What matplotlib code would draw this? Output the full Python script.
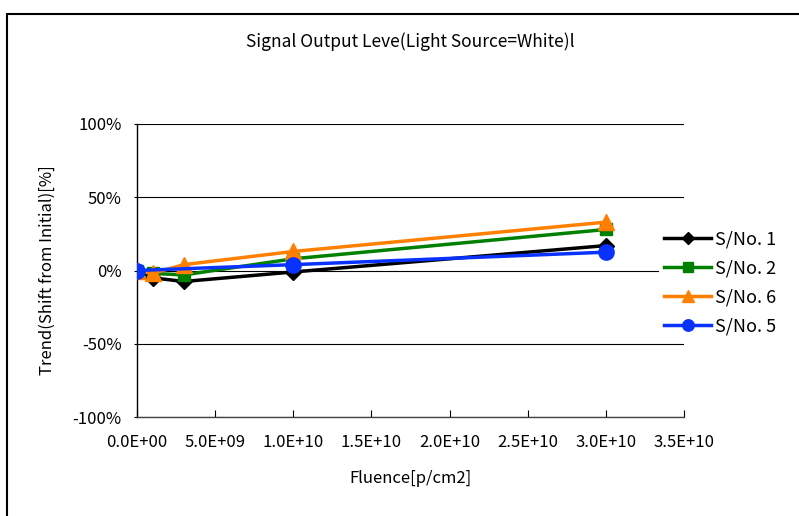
import matplotlib
matplotlib.use("Agg")
import matplotlib.pyplot as plt
from matplotlib.patches import Rectangle
from matplotlib.ticker import FuncFormatter, MultipleLocator

plt.rcParams["font.family"] = ["Noto Sans CJK JP", "DejaVu Sans"]

# -------------------------
# Data
# -------------------------
fluence_a = [0, 1e9, 3e9, 1e10, 3e10]
fluence_b = [0, 1e10, 3e10]

sno1 = [0, -5, -7.5, -1, 17]
sno2 = [0, -2, -3, 8, 28]
sno6 = [0, -2, 4, 13, 33]
sno5 = [0, 4, 12.5]

x_ticks = [0, 5e9, 1e10, 1.5e10, 2e10, 2.5e10, 3e10, 3.5e10]


def sci_label(v, pos):
    if v == 0:
        return "0.0E+00"
    exp = len(str(int(v))) - 1
    return "%.1fE+%02d" % (v / 10 ** exp, exp)


# -------------------------
# Figure
# -------------------------
fig = plt.figure(figsize=(7.99, 5.16), dpi=100)
fig.patches.append(Rectangle((7 / 799, -0.1), 1.2, 1 - 14 / 516 + 0.1,
                             transform=fig.transFigure, fill=False,
                             edgecolor="black", linewidth=1.5))

ax = fig.add_axes([137 / 799, 1 - 417 / 516, 547 / 799, 293 / 516])

ax.plot(fluence_a, sno1, color="black", marker="D", markersize=8,
        linewidth=2.5, label="S/No. 1", zorder=3)
ax.plot(fluence_a, sno2, color="#008000", marker="s", markersize=9,
        linewidth=2.5, label="S/No. 2", zorder=4)
ax.plot(fluence_a, sno6, color="#FF7F00", marker="^", markersize=11,
        linewidth=2.5, label="S/No. 6", zorder=5)
ax.plot(fluence_b, sno5, color="#0A32FF", marker="o", markersize=11,
        linewidth=2.5, label="S/No. 5", zorder=6)

ax.set_xlim(0, 3.5e10)
ax.set_ylim(-100, 100)
ax.set_xticks(x_ticks)
ax.xaxis.set_major_formatter(FuncFormatter(sci_label))
ax.yaxis.set_major_locator(MultipleLocator(50))
ax.yaxis.set_major_formatter(FuncFormatter(lambda v, p: "%d%%" % v))

ax.grid(axis="y", color="black", linewidth=0.8)
ax.set_axisbelow(True)
for side in ["top", "right"]:
    ax.spines[side].set_visible(False)
ax.spines["left"].set_linewidth(1.0)
ax.spines["bottom"].set_color("#444444")
ax.spines["bottom"].set_linewidth(1.0)
ax.tick_params(axis="x", direction="in", length=5, labelsize=12, pad=12)
ax.tick_params(axis="y", direction="out", length=2, labelsize=12, pad=9)

ax.set_xlabel("Fluence[p/cm2]", fontsize=12, labelpad=14)
ax.set_ylabel("Trend(Shift from Initial)[%]", fontsize=12, labelpad=12)

fig.text(410 / 799, 1 - 42 / 516, "Signal Output Leve(Light Source=White)l",
         ha="center", va="center", fontsize=12.5)

fig.legend(loc="center left", bbox_to_anchor=(650 / 799, 1 - 283 / 516),
           frameon=True, fancybox=False, edgecolor="none", facecolor="white",
           framealpha=1, fontsize=13, handlelength=2.6, handletextpad=0.2,
           labelspacing=0.6, borderpad=0.3, markerscale=0.75)

fig.savefig("out.png", dpi=100)
